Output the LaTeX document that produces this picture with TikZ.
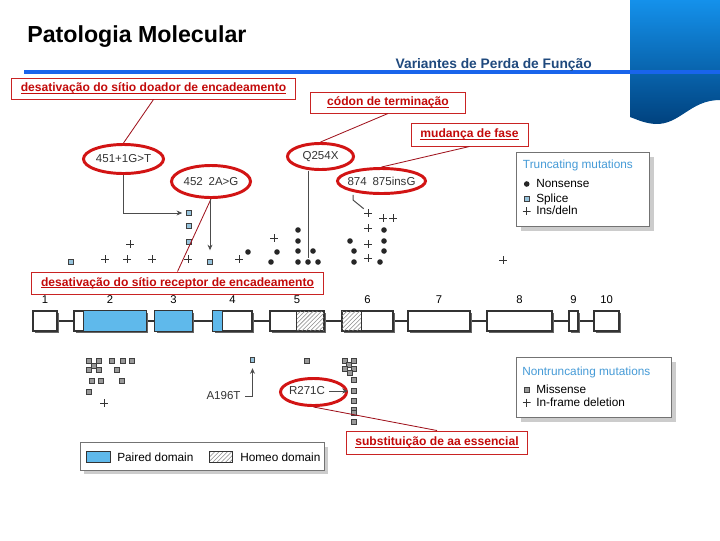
\documentclass[tikz,border=0pt]{standalone}
\usepackage{fontspec}
\setmainfont{Liberation Sans}
\usetikzlibrary{arrows.meta,shapes.geometric,positioning,calc,shadows,patterns,backgrounds}
\definecolor{lineblue}{RGB}{25,100,235}
\definecolor{subblue}{RGB}{31,73,125}
\definecolor{legblue}{RGB}{70,155,215}
\definecolor{ovalred}{RGB}{210,20,20}
\definecolor{tagred}{RGB}{195,10,10}
\definecolor{leadred}{RGB}{160,20,30}
\definecolor{paired}{RGB}{95,185,235}
\definecolor{splice}{RGB}{150,195,220}
\definecolor{capblue}{RGB}{20,145,235}
\definecolor{capdark}{RGB}{0,65,125}
\newcommand\tagul[1]{\setbox0=\hbox{#1}\rlap{\rule[-1.4pt]{\wd0}{0.6pt}}\box0}

\begin{document}
\begin{tikzpicture}[x=0.025cm, y=-0.025cm,
    tag/.style={draw=tagred!90, line width=0.7pt, fill=white, inner sep=0pt, minimum height=0.525cm, text=tagred, font=\fontsize{8.6}{10}\selectfont\bfseries},
    oval/.style={draw=ovalred, line width=2.1pt, ellipse, inner xsep=-1pt, inner ysep=0pt, text=black!80, font=\fontsize{8.2}{10}\selectfont},
    mutlbl/.style={inner sep=3pt, text=black!80, font=\fontsize{8.2}{10}\selectfont},
    lead/.style={draw=leadred, line width=0.6pt},
    arr/.style={draw=black!70, line width=0.7pt, -{Stealth[length=4pt,width=3.5pt]}},
    conn/.style={draw=black!70, line width=0.7pt},
    exon/.style={draw=black!80, line width=0.8pt, fill=white, minimum height=0.5cm, inner sep=0pt, drop shadow={shadow xshift=1.3pt, shadow yshift=-1.3pt, fill=black!60, opacity=1}},
    exnum/.style={inner sep=1pt, font=\fontsize{8}{9}\selectfont},
    nons/.style={circle, fill=black!85, inner sep=0pt, minimum size=0.14cm},
    spl/.style={draw=black!75, line width=0.5pt, fill=splice, inner sep=0pt, minimum size=0.11cm},
    mis/.style={draw=black!75, line width=0.5pt, fill=black!40, inner sep=0pt, minimum size=0.11cm},
    ins/.style={inner sep=0pt, minimum size=0.2cm, path picture={\draw[line width=0.6pt, black!80] (path picture bounding box.north) -- (path picture bounding box.south) (path picture bounding box.west) -- (path picture bounding box.east);}},
    hatch/.style={draw=black!80, pattern=north east lines, pattern color=black!45},
    legbox/.style={draw=black!55, line width=0.5pt, fill=white, inner sep=0pt, drop shadow={shadow xshift=3pt, shadow yshift=-3pt, fill=black!20, opacity=1}},
    legtxt/.style={anchor=base west, inner sep=0pt, font=\fontsize{8.4}{10}\selectfont}
]
\useasboundingbox (0,0) rectangle (720,540);

\shade[top color=capblue, bottom color=capdark] (630,0) -- (720,0) -- (720,100) .. controls (690,100) and (680,125) .. (655,124) .. controls (643,123) and (636,119) .. (630,117) -- cycle;
\draw[lineblue, line width=2.5pt] (24,72) -- (720,72);
\node[anchor=base west, inner sep=0pt, font=\fontsize{16.5}{18}\selectfont\bfseries] (title) at (27,42) {Patologia Molecular};
\node[anchor=base east, inner sep=0pt, text=subblue, font=\fontsize{9.8}{11}\selectfont\bfseries] (subtitle) at (592,68) {Variantes de Perda de Função};

\node[tag, minimum width=7.075cm] (tdoador) at (153.5,88.5) {\tagul{desativação do sítio doador de encadeamento}};
\node[tag, minimum width=3.85cm] (tstop) at (388,102.5) {\tagul{códon de terminação}};
\node[tag, minimum width=2.925cm, minimum height=0.575cm] (tframe) at (469.5,134.5) {\tagul{mudança de fase}};
\node[tag, minimum width=7.275cm, minimum height=0.55cm] (treceptor) at (177.5,283) {\tagul{desativação do sítio receptor de encadeamento}};
\node[tag, minimum width=4.5cm, minimum height=0.575cm] (tsubst) at (437,442.5) {\tagul{substituição de aa essencial}};

\node[oval, minimum width=2cm, minimum height=0.725cm] (m451) at (123.5,159) {451+1G>T};
\node[oval, minimum width=1.975cm, minimum height=0.8cm] (m452) at (211,181.5) {452\enspace 2A>G};
\node[oval, minimum width=1.65cm, minimum height=0.65cm] (mQ254) at (320.5,156.5) {Q254X};
\node[oval, inner xsep=-2.5pt, minimum width=2.2cm, minimum height=0.625cm] (m874) at (381.5,181) {874\enspace 875insG};
\node[oval, minimum width=1.65cm, minimum height=0.675cm] (oR271) at (313.5,392) {};
\node[mutlbl] (mR271) at (307,391) {R271C};
\node[mutlbl, anchor=east] (mA196) at (245,396) {A196T};

\foreach \x/\y [count=\i] in {189/213,189/226,189/242,210/262,71/262,252.5/360}
  \node[spl] (sp\i) at (\x,\y) {};
\foreach \x/\y [count=\i] in {308/262,248/252,277/252,271/262,298/230,298/241,298/251,298/262,313/251,318/262,350/241,354/251,354/262,384/230,384/241,384/251,380/262}
  \node[nons] (ns\i) at (\x,\y) {};
\foreach \x/\y [count=\i] in {368/213,368/228,368/244,368/258,383/218,393/218,105/259,127/259,130/244,152/259,188/259,239/259,274/238,503/260,104/403}
  \node[ins] (in\i) at (\x,\y) {};
\foreach \x/\y [count=\i] in {354/391,89/361,99/361,94/366,89/370,99/370,112/361,123/361,132/361,117/370,92/381,101/381,122/381,89/392,307/361,345/361,354/361,349/365,345/369,354/369,350/373,354/380,354/401,354/410,354/413,354/422}
  \node[mis] (ms\i) at (\x,\y) {};

\foreach \c/\w/\n in {45/0.6/1,110/1.8/2,173.5/0.925/3,232.5/0.975/4,297/1.35/5,367.5/1.275/6,439/1.55/7,519.5/1.625/8,573.5/0.225/9,606.5/0.625/10}
  \node[exon, minimum width=\w cm, label={[exnum, label distance=4pt]above:\n}] (ex\n) at (\c,321) {};
\begin{scope}[on background layer]
\draw[black!80, line width=1pt] (ex1.east) -- (ex10.west);
\end{scope}
\filldraw[fill=paired, draw=black!80, line width=0.8pt] ($(ex2.south west)+(10,0)$) rectangle (ex2.north east);
\filldraw[fill=paired, draw=black!80, line width=0.8pt] (ex3.south west) rectangle (ex3.north east);
\filldraw[fill=paired, draw=black!80, line width=0.8pt] (ex4.south west) rectangle ($(ex4.north west)+(10,0)$);
\draw[hatch, line width=0.8pt] ($(ex5.south east)+(-28,0)$) rectangle (ex5.north east);
\draw[hatch, line width=0.8pt] (ex6.south west) rectangle ($(ex6.north west)+(20,0)$);

\draw[lead] (tdoador.south) -- (m451.north);
\draw[lead] (tstop.south) -- (mQ254.north);
\draw[lead] (tframe.south) -- (m874.north);
\draw[lead] (treceptor.north) -- (m452.south);
\draw[lead] (tsubst.north) -- (oR271.south);

\draw[arr, shorten >=3pt] (m451.south) |- (sp1.west);
\draw[arr, shorten >=6.5pt] (sp4.north |- m452.south) -- (sp4.north);
\draw[conn, shorten >=1pt] (ns1.north |- mQ254.south) -- (ns1.north);
\coordinate (k874) at (353,200);
\draw[conn] (k874 |- m874.south) -- (k874) -- (in1.north west);
\draw[arr, shorten >=4pt] (mA196.east) -| (sp6.south);
\draw[arr, shorten >=2.5pt] (mR271.east) -- (ms1.west);

\node[legbox, minimum width=3.315cm, minimum height=1.85cm] (legtrunc) at (583,189.7) {};
\node[legtxt, text=legblue] (legtrunctitle) at (522.7,168) {Truncating mutations};
\node[nons] (kn) at (526.7,184) {};
\node[legtxt] (kntxt) at (536,187.5) {Nonsense};
\node[spl] (ks) at (526.7,199) {};
\node[legtxt] (kstxt) at (536,202.5) {Splice};
\node[ins] (ki) at (526.7,211) {};
\node[legtxt] (kitxt) at (536,214.5) {Ins/deln};

\node[legbox, minimum width=3.875cm, minimum height=1.5cm] (legnontrunc) at (594.2,387.3) {};
\node[legtxt, text=legblue] (legnontrunctitle) at (522,375) {Nontruncating mutations};
\node[mis] (km) at (526.7,390) {};
\node[legtxt] (kmtxt) at (536,393.5) {Missense};
\node[ins] (kd) at (526.7,402.7) {};
\node[legtxt] (kdtxt) at (536,406.5) {In-frame deletion};

\node[legbox, minimum width=6.1cm, minimum height=0.68cm] (legdomain) at (202.2,456.3) {};
\node[draw=black!80, fill=paired, inner sep=0pt, minimum width=0.6cm, minimum height=0.265cm] (swpaired) at (98.7,457) {};
\node[legtxt] (swpairedtxt) at (117,461) {Paired domain};
\node[hatch, inner sep=0pt, minimum width=0.58cm, minimum height=0.265cm] (swhomeo) at (220.7,457) {};
\node[legtxt] (swhomeotxt) at (240,461) {Homeo domain};
\end{tikzpicture}
\end{document}
